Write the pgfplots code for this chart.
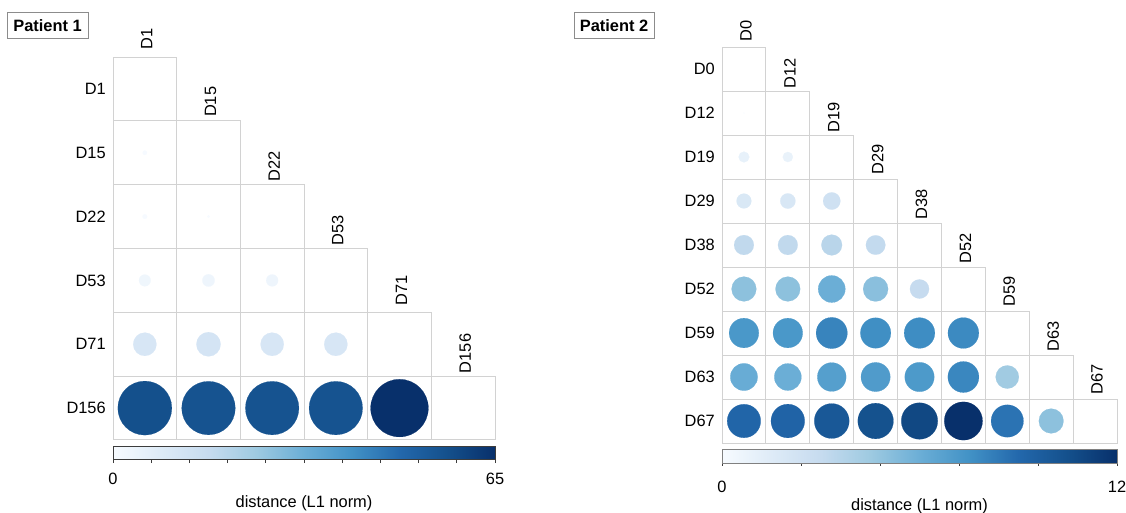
\documentclass[border=0pt]{standalone}
\usepackage{pgfplots}
\pgfplotsset{compat=1.18}
\usepackage{fontspec}
\setmainfont{Liberation Sans}

\pgfplotsset{
  colormap={blues}{rgb255=(247,251,255) rgb255=(222,235,247) rgb255=(198,219,239) rgb255=(158,202,225) rgb255=(107,174,214) rgb255=(66,146,198) rgb255=(35,104,172) rgb255=(20,80,140) rgb255=(8,48,107)},
}
\definecolor{gridgray}{RGB}{210,210,210}
\definecolor{boxgray}{RGB}{140,140,140}
\definecolor{cbline}{RGB}{60,60,60}

\begin{document}
\begin{tikzpicture}[x=0.75pt,y=0.75pt,font=\fontsize{12.3}{14}\selectfont]
\path[use as bounding box] (0,0) rectangle (1126,512);

% ---------- grids ----------
\foreach \r in {1,...,6}{
  \foreach \c in {1,...,\r}{
    \draw[gridgray,line width=0.75pt] ({113+(\c-1)*63.67},{512-57-(\r-1)*63.83}) rectangle ++(63.67,-63.83);
  }
}
\foreach \r in {1,...,9}{
  \foreach \c in {1,...,\r}{
    \draw[gridgray,line width=0.75pt] ({722+(\c-1)*43.89},{512-47-(\r-1)*44}) rectangle ++(43.89,-44);
  }
}

% ---------- Patient 1 ----------
\begin{axis}[
  name=p1, at={(84.75pt,54pt)}, anchor=south west,
  scale only axis, width=286.5pt, height=287.25pt,
  xmin=0.5, xmax=6.5, ymin=0.5, ymax=6.5,
  hide axis, colormap name=blues,
  point meta min=0, point meta max=65,
  colorbar horizontal,
  colorbar style={
    at={(parent axis.south west)}, anchor=north west, yshift=4pt,
    scale only axis, width=286.5pt, height=9.75pt,
    xtick={0,6.5,13,19.5,26,32.5,39,45.5,52,58.5,65},
    xticklabels={0,,,,,,,,,,65},
    xtick pos=left, tick align=outside, major tick length=3pt,
    tick style={cbline, line width=0.6pt},
    axis line style={cbline, line width=0.6pt},
    xticklabel style={yshift=-4pt},
    xlabel={distance (L1 norm)},
    xlabel style={yshift=-1pt},
  },
]
\addplot[scatter, only marks, mark=*, point meta=explicit,
  scatter/use mapped color={draw=mapped color, fill=mapped color},
  mark options={line width=0.1pt},
  visualization depends on={\thisrow{v} \as \val},
  scatter/@pre marker code/.append style={/tikz/mark size={2.684*sqrt(\val)}}]
  table[x=c, y=r, meta=v] {
c r v
1 5 0.4
1 4 0.45
2 4 0.15
1 3 2.7
2 3 3.0
3 3 2.8
1 2 10.6
2 2 11.5
3 2 10.6
4 2 10.6
1 1 57.0
2 1 56.0
3 1 56.0
4 1 56.0
5 1 65.0
};
\end{axis}

% ---------- Patient 2 ----------
\begin{axis}[
  name=p2, at={(541.5pt,51.75pt)}, anchor=south west,
  scale only axis, width=296.25pt, height=297pt,
  xmin=0.5, xmax=9.5, ymin=0.5, ymax=9.5,
  hide axis, colormap name=blues,
  point meta min=0, point meta max=12,
  colorbar horizontal,
  colorbar style={
    at={(parent axis.south west)}, anchor=north west, yshift=3.6pt,
    scale only axis, width=296.25pt, height=10.5pt,
    xtick={0,2.4,4.8,7.2,9.6,12},
    xticklabels={0,,,,,12},
    xtick pos=left, tick align=outside, major tick length=1.5pt,
    tick style={cbline, line width=0.6pt},
    axis line style={gray, line width=0.6pt},
    xticklabel style={yshift=-8pt},
    xlabel={distance (L1 norm)},
    xlabel style={yshift=2.5pt},
  },
]
\addplot[scatter, only marks, mark=*, point meta=explicit,
  scatter/use mapped color={draw=mapped color, fill=mapped color},
  mark options={line width=0.1pt},
  visualization depends on={\thisrow{v} \as \val},
  scatter/@pre marker code/.append style={/tikz/mark size={4.147*sqrt(\val)}}]
  table[x=c, y=r, meta=v] {
c r v
1 8 0.01
1 7 0.95
2 7 0.85
1 6 1.8
2 6 1.9
3 6 2.45
1 5 3.2
2 5 3.2
3 5 3.5
4 5 3.1
1 4 5.0
2 4 5.0
3 4 6.0
4 4 5.1
5 4 3.0
1 3 7.2
2 3 7.2
3 3 8.0
4 3 7.6
5 3 7.7
6 3 7.8
1 2 6.1
2 2 6.0
3 2 6.8
4 2 7.0
5 2 7.1
6 2 7.9
7 2 4.4
1 1 9.2
2 1 9.3
3 1 10.0
4 1 10.4
5 1 10.9
6 1 12.0
7 1 8.6
8 1 5.0
};
\end{axis}

% ---------- row labels ----------
\foreach \n [count=\i] in {D1,D15,D22,D53,D71,D156}{
  \node[anchor=east,inner sep=0pt] at (106,{512-57-(\i-0.5)*63.83}) {\n};
}
\foreach \n [count=\i] in {D0,D12,D19,D29,D38,D52,D59,D63,D67}{
  \node[anchor=east,inner sep=0pt] at (715,{512-47-(\i-0.5)*44}) {\n};
}
% ---------- column labels ----------
\foreach \n/\o [count=\i] in {D1/17.8,D15/19,D22/18.3,D53/17.8,D71/21.8,D156/22.7}{
  \node[rotate=90,inner sep=0pt] at ({113+(\i-0.5)*63.67+2},{512-57-(\i-1)*63.83+\o}) {\n};
}
\foreach \n/\o [count=\i] in {D0/16,D12/18,D19/17.5,D29/19.3,D38/18.7,D52/19,D59/20,D63/19,D67/20}{
  \node[rotate=90,inner sep=0pt] at ({722+(\i-0.5)*43.89+2},{512-47-(\i-1)*44+\o}) {\n};
}

% ---------- panel titles ----------
\node[draw=boxgray,line width=0.75pt,font=\fontsize{12.3}{14}\selectfont\bfseries,minimum width=60.75pt,minimum height=18.75pt,inner sep=0pt] at (47.5,486.5) {Patient 1};
\node[draw=boxgray,line width=0.75pt,font=\fontsize{12.3}{14}\selectfont\bfseries,minimum width=60pt,minimum height=18.75pt,inner sep=0pt] at (614,486.5) {Patient 2};
\end{tikzpicture}
\end{document}
